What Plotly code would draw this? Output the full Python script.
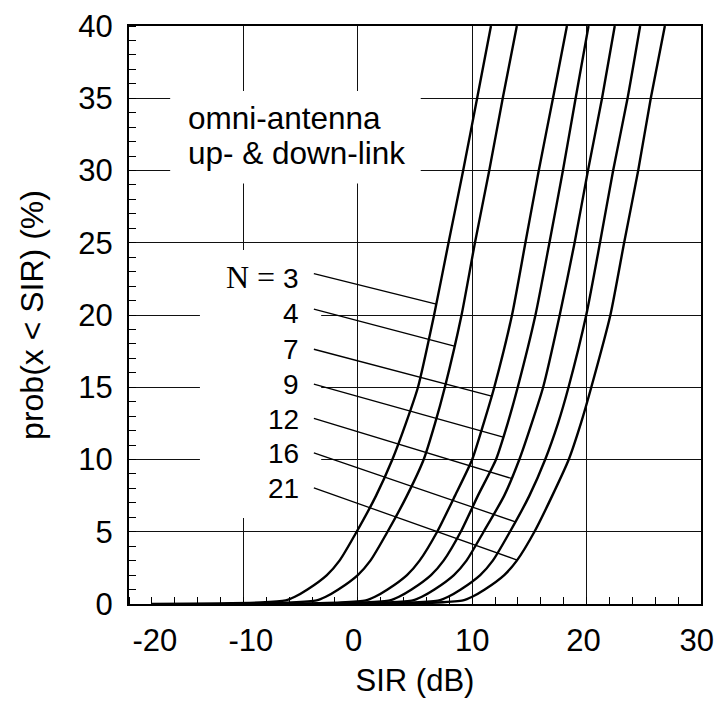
import numpy as np
import plotly.graph_objects as go

# ---------------- data ----------------
prob_levels = [0, 0.1, 0.25, 0.5, 1, 2, 3, 5, 7.5, 10, 12.5, 15, 20, 25, 30, 35, 40]

sir_N3 = [-18, -8.5, -6.3, -5.5, -4.4, -2.7, -1.6, -0.1, 1.6, 3.02, 4.2, 5.26, 6.67, 7.93, 9.21, 10.43, 11.64]
sir_N4 = [-12, -5.8, -3.6, -2.8, -1.7, 0.0, 1.1, 2.6, 4.3, 5.76, 6.75, 7.61, 9.07, 10.24, 11.49, 12.67, 13.9]
sir_N7 = [-7, -1.5, 0.7, 1.5, 2.6, 4.3, 5.4, 6.94, 8.5, 10.0, 11.0, 11.93, 13.48, 14.65, 15.82, 17.06, 18.28]
sir_N9 = [-4, 0.6, 2.8, 3.6, 4.7, 6.4, 7.5, 9.0, 10.5, 12.08, 13.1, 13.98, 15.53, 16.75, 17.93, 19.04, 20.17]
sir_N12 = [-1, 2.6, 4.8, 5.6, 6.7, 8.4, 9.5, 11.0, 12.8, 14.12, 15.2, 16.2, 17.65, 18.95, 20.12, 21.35, 22.46]
sir_N16 = [1, 4.9, 7.1, 7.9, 9.0, 10.7, 11.8, 13.3, 15.0, 16.38, 17.5, 18.42, 19.97, 21.17, 22.32, 23.58, 24.68]
sir_N21 = [3, 7.0, 9.2, 10.0, 11.1, 12.8, 13.9, 15.44, 17.0, 18.44, 19.5, 20.41, 22.08, 23.28, 24.51, 25.61, 26.84]

cluster_sizes = ["3", "4", "7", "9", "12", "16", "21"]
label_texts = ["<span style='font-family:Liberation Serif;font-size:32px'>N =</span> 3",
               "4", "7", "9", "12", "16", "21"]

# leader lines: label end (fixed SIR) -> point on the curve at given probability
leader_start_sir = -3.84
leader_start_prob = [22.87, 20.40, 17.63, 15.21, 12.84, 10.46, 8.04]
leader_end_prob = [20.75, 17.84, 14.38, 11.55, 8.69, 5.69, 3.04]
label_prob = [22.6, 20.1, 17.6, 15.2, 12.8, 10.45, 8.0]
label_sir = -5.0

NB = "\u00a0"
TH = "\u2009"
x_tickvals = [-20, -10, 0, 10, 20, 30]
# the printed labels sit slightly off their grid lines in the original
x_ticktext = [NB * 6 + "-20", NB + TH + "-10", "0" + NB, "10", "20" + TH, "30" + NB]
y_tickvals = [0, 5, 10, 15, 20, 25, 30, 35, 40]

curves = [sir_N3, sir_N4, sir_N7, sir_N9, sir_N12, sir_N16, sir_N21]

FONT = "Liberation Sans, Arial, Helvetica, sans-serif"

fig = go.Figure()

for n, sir in zip(cluster_sizes, curves):
    fig.add_trace(go.Scatter(
        x=sir, y=prob_levels, mode="lines", name="N = " + n,
        line=dict(color="black", width=2.4, shape="spline", smoothing=0.6),
        showlegend=False, hoverinfo="skip"))

for sir, p0, p1 in zip(curves, leader_start_prob, leader_end_prob):
    x_end = float(np.interp(p1, prob_levels, sir))
    fig.add_trace(go.Scatter(
        x=[leader_start_sir, x_end], y=[p0, p1], mode="lines",
        line=dict(color="black", width=1.3), showlegend=False, hoverinfo="skip"))

# white masks that interrupt the grid behind the text blocks (above grid, below traces)
fig.add_shape(type="rect", xref="x", yref="y", x0=-16.4, x1=5.5, y0=29.1, y1=35.5,
              fillcolor="white", line=dict(width=0), layer="between")
fig.add_shape(type="rect", xref="x", yref="y", x0=-13.8, x1=-3.2, y0=5.95, y1=24.5,
              fillcolor="white", line=dict(width=0), layer="between")

fig.add_annotation(x=-15.03, y=33.64, xref="x", yref="y", text="omni-antenna",
                   showarrow=False, xanchor="left", yanchor="middle",
                   font=dict(family=FONT, size=31.5, color="black"))
fig.add_annotation(x=-15.03, y=31.22, xref="x", yref="y", text="up- &amp; down-link",
                   showarrow=False, xanchor="left", yanchor="middle",
                   font=dict(family=FONT, size=31.5, color="black"))

for t, p in zip(label_texts, label_prob):
    fig.add_annotation(x=label_sir, y=p, xref="x", yref="y", text=t, showarrow=False,
                       xanchor="right", yanchor="middle",
                       font=dict(family=FONT, size=28, color="black"))

axis_common = dict(
    showgrid=True, gridcolor="#111", gridwidth=1.2,
    showline=True, linecolor="black", linewidth=2, mirror=True,
    zeroline=False, ticks="",
    tickfont=dict(family=FONT, size=31, color="black"),
)

# the page body has an 8 px margin, so the figure is 8 px smaller than the window
fig.update_layout(
    width=717, height=702,
    margin=dict(l=121, r=24, t=18, b=106, autoexpand=False),
    paper_bgcolor="white", plot_bgcolor="white",
    xaxis=dict(
        range=[-20, 30], tickvals=x_tickvals, ticktext=x_ticktext,
        ticklabeloverflow="allow",
        minor=dict(dtick=2, tick0=-20, ticks="inside", ticklen=7, tickwidth=1.2,
                   tickcolor="black", showgrid=False),
        ticklabelstandoff=8,
        title=dict(text="SIR (dB)", font=dict(family=FONT, size=31, color="black"), standoff=12),
        **axis_common),
    yaxis=dict(
        range=[0, 40], tickvals=y_tickvals,
        minor=dict(dtick=1, tick0=0, ticks="inside", ticklen=7, tickwidth=1.2,
                   tickcolor="black", showgrid=False),
        ticklabelstandoff=8,
        title=dict(text="prob(x < SIR) (%)", font=dict(family=FONT, size=32, color="black"), standoff=25),
        **axis_common),
)

fig.write_html("out.html")
